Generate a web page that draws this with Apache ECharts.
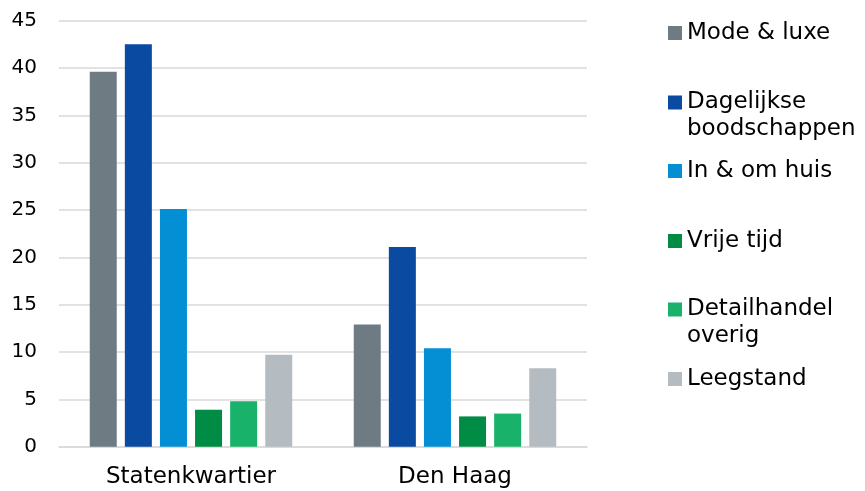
<!DOCTYPE html>
<html>
<head>
<meta charset="utf-8">
<script src="https://cdn.jsdelivr.net/npm/echarts@6/dist/echarts.min.js"></script>
<style>
    html, body { margin: 0; padding: 0; background: #fff; }
    #chart { width: 865px; height: 491px; }
</style>
</head>
<body>
<div id="chart"></div>
<script>
    // categorieën op de x-as
    var categories = ['Statenkwartier', 'Den Haag'];
    // reeksnamen (legenda)
    var seriesNames = ['Mode & luxe', 'Dagelijkse boodschappen', 'In & om huis', 'Vrije tijd', 'Detailhandel overig', 'Leegstand'];
    // waarden per reeks: [Statenkwartier, Den Haag]
    var modeLuxe = [39.6, 12.9];
    var dagelijks = [42.5, 21.1];
    var inOmHuis = [25.1, 10.4];
    var vrijeTijd = [3.9, 3.2];
    var overig = [4.8, 3.5];
    var leegstand = [9.7, 8.3];
    // y-as
    var yTicks = [0, 5, 10, 15, 20, 25, 30, 35, 40, 45];

    var values = [modeLuxe, dagelijks, inOmHuis, vrijeTijd, overig, leegstand];
    var colors = ['#6f7b83', '#0a4aa0', '#048fd4', '#008c45', '#18b26b', '#b5bcc1'];
    // legenda: tekst per regel; lege eerste regel zodat het vierkantje bij de eerste tekstregel staat
    var legendLabels = ['Mode & luxe', '\nDagelijkse\nboodschappen', 'In & om huis', 'Vrije tijd', '\nDetailhandel\noverig', 'Leegstand'];
    var legendCenters = [33, 103, 171, 241, 310, 379];

    var chart = echarts.init(document.getElementById('chart'));
    var fontFamily = '"DejaVu Sans", "Liberation Sans", sans-serif';

    var legends = [];
    var series = [];
    for (var i = 0; i < seriesNames.length; i++) {
        var twoLines = legendLabels[i].charAt(0) === '\n';
        legends.push({
            orient: 'vertical',
            left: 668,
            top: legendCenters[i] - (twoLines ? 41 : 13.5),
            padding: 0,
            icon: 'rect',
            itemWidth: 14,
            itemHeight: 14,
            selectedMode: false,
            formatter: (function (label) {
                return function () { return label; };
            })(legendLabels[i]),
            textStyle: {
                fontFamily: fontFamily,
                fontSize: 23,
                color: '#000',
                lineHeight: 27
            },
            data: [seriesNames[i]]
        });
        series.push({
            name: seriesNames[i],
            type: 'bar',
            barWidth: 27,
            barGap: '30%',
            itemStyle: { color: colors[i] },
            data: values[i]
        });
    }

    var option = {
        animation: false,
        backgroundColor: '#fff',
        legend: legends,
        grid: {
            left: 59,
            right: 278,
            top: 20.7,
            bottom: 44.3,
            containLabel: false
        },
        xAxis: {
            type: 'category',
            data: categories,
            axisTick: { show: false },
            axisLine: { show: true, lineStyle: { color: '#d9d9d9', width: 1.5 } },
            axisLabel: {
                margin: 19,
                fontFamily: fontFamily,
                fontSize: 23,
                color: '#000'
            }
        },
        yAxis: {
            type: 'value',
            min: yTicks[0],
            max: yTicks[yTicks.length - 1],
            interval: 5,
            axisLine: { show: false },
            axisTick: { show: false },
            splitLine: { lineStyle: { color: '#d9d9d9', width: 1.5 } },
            axisLabel: {
                margin: 22,
                fontFamily: fontFamily,
                fontSize: 20,
                color: '#000'
            }
        },
        series: series
    };
    chart.setOption(option);
</script>
</body>
</html>
